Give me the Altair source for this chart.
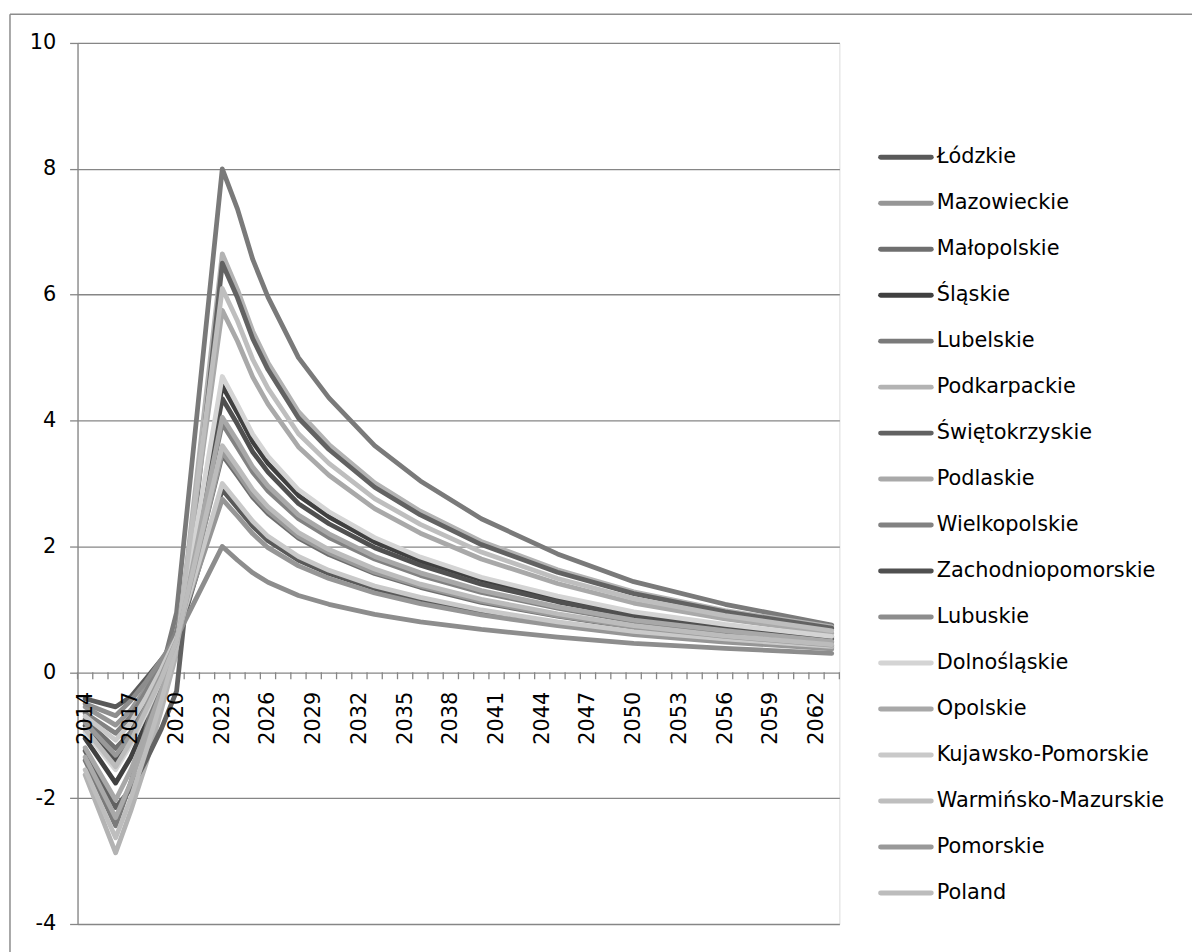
import altair as alt
import pandas as pd

regions = ["Łódzkie", "Mazowieckie", "Małopolskie", "Śląskie", "Lubelskie", "Podkarpackie",
           "Świętokrzyskie", "Podlaskie", "Wielkopolskie", "Zachodniopomorskie", "Lubuskie",
           "Dolnośląskie", "Opolskie", "Kujawsko-Pomorskie", "Warmińsko-Mazurskie", "Pomorskie", "Poland"]
colors = ["#595959", "#969696", "#6f6f6f", "#404040", "#7a7a7a", "#b3b3b3",
          "#626262", "#a9a9a9", "#828282", "#505050", "#8d8d8d",
          "#d4d4d4", "#a8a8a8", "#c9c9c9", "#bebebe", "#999999", "#bcbcbc"]

years = [2014, 2016, 2017, 2018, 2019, 2020, 2023, 2024, 2025, 2026, 2028, 2030, 2033, 2036, 2040, 2045, 2050, 2056, 2063]

lodzkie = [-0.42, -0.55, -0.39, -0.1, 0.2, 0.48, 2.9, 2.61, 2.32, 2.09, 1.78, 1.57, 1.33, 1.15, 0.96, 0.78, 0.63, 0.51, 0.39]
mazowieckie = [-0.55, -0.84, -0.6, -0.25, 0.15, 0.6, 2.75, 2.48, 2.20, 1.98, 1.69, 1.49, 1.26, 1.09, 0.91, 0.74, 0.60, 0.48, 0.37]
malopolskie = [-0.75, -1.21, -0.95, -0.5, 0.0, 0.55, 3.45, 3.12, 2.78, 2.52, 2.13, 1.87, 1.57, 1.35, 1.11, 0.89, 0.71, 0.56, 0.42]
slaskie = [-1.05, -1.76, -1.35, -0.8, -0.2, 0.4, 4.55, 4.12, 3.66, 3.32, 2.81, 2.47, 2.07, 1.77, 1.47, 1.17, 0.93, 0.74, 0.56]
lubelskie = [-1.4, -2.44, -1.75, -0.9, 0.0, 0.95, 8.0, 7.36, 6.56, 5.96, 5.0, 4.36, 3.6, 3.04, 2.44, 1.88, 1.44, 1.08, 0.75]
podkarpackie = [-1.63, -2.87, -2.2, -1.45, -0.6, 0.3, 6.65, 6.08, 5.42, 4.92, 4.14, 3.62, 3.01, 2.56, 2.08, 1.63, 1.28, 0.98, 0.72]
swietokrzyskie = [-1.25, -2.15, -1.85, -1.4, -0.9, -0.3, 6.5, 5.95, 5.30, 4.81, 4.04, 3.54, 2.94, 2.50, 2.03, 1.59, 1.25, 0.96, 0.70]
podlaskie = [-1.35, -2.31, -1.75, -1.05, -0.3, 0.5, 5.75, 5.26, 4.69, 4.26, 3.58, 3.13, 2.60, 2.21, 1.80, 1.41, 1.10, 0.85, 0.62]
wielkopolskie = [-0.65, -0.97, -0.7, -0.3, 0.15, 0.65, 3.95, 3.57, 3.18, 2.88, 2.44, 2.14, 1.80, 1.54, 1.27, 1.02, 0.81, 0.64, 0.48]
zachodniopomorskie = [-0.85, -1.41, -1.05, -0.6, -0.05, 0.5, 4.35, 3.94, 3.50, 3.18, 2.68, 2.36, 1.98, 1.70, 1.40, 1.12, 0.89, 0.70, 0.53]
lubuskie = [-0.5, -0.69, -0.45, -0.15, 0.2, 0.55, 2.0, 1.78, 1.58, 1.43, 1.22, 1.08, 0.92, 0.80, 0.68, 0.56, 0.46, 0.38, 0.30]
dolnoslaskie = [-0.95, -1.55, -1.15, -0.65, -0.1, 0.45, 4.7, 4.25, 3.78, 3.43, 2.90, 2.55, 2.14, 1.83, 1.51, 1.21, 0.96, 0.76, 0.57]
opolskie = [-1.2, -2.03, -1.55, -0.95, -0.3, 0.4, 4.05, 3.67, 3.26, 2.96, 2.50, 2.20, 1.84, 1.58, 1.30, 1.04, 0.83, 0.66, 0.49]
kujawsko = [-0.7, -1.08, -0.8, -0.4, 0.05, 0.55, 3.0, 2.70, 2.40, 2.16, 1.84, 1.62, 1.37, 1.19, 0.99, 0.80, 0.65, 0.53, 0.41]
warminsko = [-1.55, -2.63, -2.0, -1.25, -0.45, 0.4, 6.1, 5.58, 4.97, 4.51, 3.79, 3.32, 2.76, 2.35, 1.91, 1.49, 1.17, 0.90, 0.66]
pomorskie = [-0.8, -1.32, -1.0, -0.55, -0.05, 0.5, 3.5, 3.17, 2.82, 2.56, 2.16, 1.90, 1.59, 1.37, 1.13, 0.90, 0.72, 0.57, 0.43]
poland = [-0.9, -1.5, -1.1, -0.6, -0.1, 0.5, 3.6, 3.26, 2.90, 2.63, 2.22, 1.95, 1.64, 1.40, 1.16, 0.93, 0.74, 0.58, 0.44]

series = [lodzkie, mazowieckie, malopolskie, slaskie, lubelskie, podkarpackie, swietokrzyskie,
          podlaskie, wielkopolskie, zachodniopomorskie, lubuskie, dolnoslaskie, opolskie,
          kujawsko, warminsko, pomorskie, poland]

label_years = list(range(2014, 2063, 3))
y_ticks = [-4, -2, 0, 2, 4, 6, 8, 10]
tick_bounds = [y + 0.5 for y in range(2013, 2064)]

rows = []
for i, (name, vals) in enumerate(zip(regions, series)):
    for yr, v in zip(years, vals):
        rows.append({"region": name, "year": yr, "value": v, "k": i})
df = pd.DataFrame(rows)
legend_df = pd.DataFrame({"region": regions})

W, H = 767, 887
FONT = "DejaVu Sans"
FS = 21
GRID = "#868686"

xscale = alt.Scale(domain=[2013.5, 2063.5], nice=False, zero=False)
yscale = alt.Scale(domain=[-4, 10], nice=False, zero=False)
cscale = alt.Scale(domain=regions, range=colors)
zero_px = H * 10 / 14

lines = alt.Chart(df).mark_line(strokeWidth=4.8, strokeJoin="round", strokeCap="round").encode(
    x=alt.X("year:Q", scale=xscale,
            axis=alt.Axis(values=label_years, format="d", labelAngle=270, ticks=False,
                          domain=False, grid=False, offset=-(H - zero_px), labelPadding=19,
                          labelFontSize=FS, labelFont=FONT, labelColor="#000000", title=None,
                          labelOverlap=False, zindex=1)),
    y=alt.Y("value:Q", scale=yscale,
            axis=alt.Axis(values=y_ticks, grid=True, gridColor=GRID, gridWidth=1.3,
                          domain=True, domainColor=GRID, domainWidth=1.3,
                          ticks=True, tickColor=GRID, tickSize=8, tickWidth=1.3,
                          labelFontSize=FS, labelFont=FONT, labelColor="#000000",
                          labelExpr="toString(datum.value)",
                          labelPadding=14, title=None)),
    color=alt.Color("region:N", scale=cscale, legend=None),
    order=alt.Order("k:Q"),
)

tick_df = pd.DataFrame({"b": tick_bounds})
ticks = alt.Chart(tick_df).mark_rule(color=GRID, strokeWidth=1.3, y2Offset=7).encode(
    x=alt.X("b:Q", scale=xscale),
    y=alt.YDatum(0, scale=yscale),
    y2=alt.Y2Datum(0),
)

base = alt.layer(ticks, lines)

# legend drawn from the region list, rows placed by a point scale
leg_scale = alt.Scale(type="point", domain=regions, range=[115, 855.8], padding=0)
leg_rules = alt.Chart(legend_df).mark_rule(strokeWidth=5, strokeCap="round").encode(
    x=alt.value(808.5), x2=alt.value(859.5),
    y=alt.Y("region:N", scale=leg_scale, axis=None),
    color=alt.Color("region:N", scale=cscale, legend=None),
)
leg_text = alt.Chart(legend_df).mark_text(align="left", baseline="middle", font=FONT,
                                          fontSize=FS, color="#000000").encode(
    x=alt.value(865),
    y=alt.Y("region:N", scale=leg_scale, axis=None),
    text="region:N",
)
legend = alt.layer(leg_rules, leg_text)

frame_df = pd.DataFrame({"side": ["left", "top"]})
left_border = alt.Chart(frame_df.iloc[[0]]).mark_rule(color="#8c8c8c", strokeWidth=1.5).encode(
    x=alt.value(-68), y=alt.value(-29), y2=alt.value(1000))
top_border = alt.Chart(frame_df.iloc[[1]]).mark_rule(color="#8c8c8c", strokeWidth=1.5).encode(
    x=alt.value(-68), x2=alt.value(1200), y=alt.value(-29))
frame = alt.layer(left_border, top_border)

chart = alt.layer(base, legend, frame).resolve_scale(y="independent").properties(
    width=W, height=H,
    autosize=alt.AutoSizeParams(type="none"),
    padding={"left": 70, "top": 32, "right": 355, "bottom": 25},
).configure_view(stroke=None).configure(background="white")

chart.save("out.html", embed_options={"renderer": "svg", "actions": False})
